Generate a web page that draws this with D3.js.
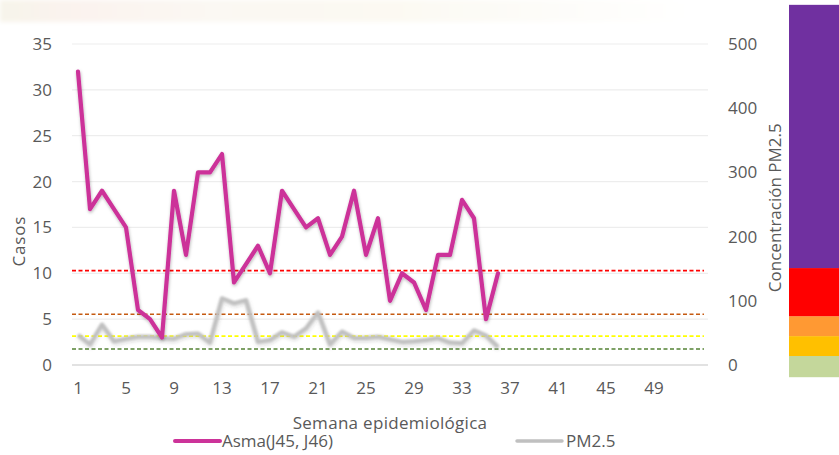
<!DOCTYPE html>
<html>
<head>
<meta charset="utf-8">
<script src="https://cdn.jsdelivr.net/npm/d3@7/dist/d3.min.js"></script>
<style>
  html, body { margin: 0; padding: 0; background: #ffffff; }
  svg { display: block; font-family: "Open Sans", "Noto Sans", sans-serif; }
</style>
</head>
<body>
<svg id="chart" width="839" height="455"></svg>
<script>
// Semanas epidemiológicas (eje de categorías, 53 posiciones)
const weeks = d3.range(1, 54);
const weekTicks = [1, 5, 9, 13, 17, 21, 25, 29, 33, 37, 41, 45, 49];

// Casos de asma (J45, J46) por semana
const asma = [32, 17, 19, 17, 15, 6, 5, 3, 19, 12, 21, 21, 23, 9, 11, 13, 10, 19,
              17, 15, 16, 12, 14, 19, 12, 16, 7, 10, 9, 6, 12, 12, 18, 16, 5, 10];

// Concentración semanal de PM2.5 (µg/m³)
const pm25 = [47, 32, 63, 37, 41, 44, 44, 42, 41, 48, 49, 35, 104, 96, 101, 36, 39, 51,
              44, 57, 82, 32, 52, 42, 42, 44, 40, 36, 37, 39, 42, 35, 34, 54, 46, 28];

// Ticks de ambos ejes
const casosTicks = [0, 5, 10, 15, 20, 25, 30, 35];
const pmTicks = [0, 100, 200, 300, 400, 500];

// Límites de calidad del aire para PM2.5 (líneas de referencia)
const limites = [25, 45, 79, 147];
const limiteColores = ["#548235", "#FFFF00", "#C55A11", "#FF0000"];

// Escala de colores del índice (bordes de cada franja en µg/m³)
const franjaBordes = [-19, 14, 45, 76, 151, 561];
const franjaColores = ["#C4D79B", "#FFC000", "#FF9933", "#FF0000", "#7030A0"];

const colAsma = "#CC3399";
const colPM = "#C0C0C0";
const textCol = "#595959";

const svg = d3.select("#chart");
const W = 839, H = 455;

// Fondo
const defs = svg.append("defs");
const grad = defs.append("linearGradient").attr("id", "topband").attr("x1", 0).attr("x2", 1);
grad.append("stop").attr("offset", "0%").attr("stop-color", "#f7f4ea");
grad.append("stop").attr("offset", "12%").attr("stop-color", "#fbf3ef");
grad.append("stop").attr("offset", "30%").attr("stop-color", "#fbf8f3");
grad.append("stop").attr("offset", "55%").attr("stop-color", "#fcf9f2");
grad.append("stop").attr("offset", "75%").attr("stop-color", "#fdfcf8");
grad.append("stop").attr("offset", "100%").attr("stop-color", "#ffffff");
const blurTop = defs.append("filter").attr("id", "soft").attr("x", "-5%").attr("y", "-50%").attr("width", "110%").attr("height", "200%");
blurTop.append("feGaussianBlur").attr("stdDeviation", 2);
svg.append("rect").attr("x", 0).attr("y", 0).attr("width", 700).attr("height", 22)
  .attr("fill", "url(#topband)").attr("filter", "url(#soft)");

// Sombras de las series
const shadow = defs.append("filter").attr("id", "shadow").attr("x", "-10%").attr("y", "-10%").attr("width", "120%").attr("height", "130%");
shadow.append("feDropShadow").attr("dx", 0.5).attr("dy", 1.5).attr("stdDeviation", 1.4)
  .attr("flood-color", "#000").attr("flood-opacity", 0.28);
const glow = defs.append("filter").attr("id", "glow").attr("x", "-10%").attr("y", "-20%").attr("width", "120%").attr("height", "150%");
glow.append("feGaussianBlur").attr("in", "SourceGraphic").attr("stdDeviation", 0.9).attr("result", "b");
glow.append("feDropShadow").attr("in", "b").attr("dx", 0.5).attr("dy", 1.5).attr("stdDeviation", 1.5)
  .attr("flood-color", "#000").attr("flood-opacity", 0.22);

// Escalas
const x = d3.scaleBand().domain(weeks).range([72, 708]).paddingInner(0).paddingOuter(0);
const xc = d => x(d) + x.bandwidth() / 2;
const yL = d3.scaleLinear().domain([0, 35]).range([365, 44]);
const yR = d3.scaleLinear().domain([0, 500]).range([365, 44]);

// Líneas de cuadrícula
svg.append("g").selectAll("line").data(casosTicks).join("line")
  .attr("x1", 72).attr("x2", 708)
  .attr("y1", d => yL(d)).attr("y2", d => yL(d))
  .attr("stroke", d => d === 0 ? "#D9D9D9" : "#EDEDED")
  .attr("stroke-width", d => d === 0 ? 1.5 : 1.2);

// Eje izquierdo
const axL = svg.append("g").attr("transform", "translate(60,0)")
  .call(d3.axisLeft(yL).tickValues(casosTicks).tickSize(0).tickPadding(8));
axL.select(".domain").remove();
axL.selectAll("text").attr("fill", textCol).style("font-size", "17px")
  .style("font-family", "'Open Sans', sans-serif");

// Eje derecho
const axR = svg.append("g").attr("transform", "translate(720,0)")
  .call(d3.axisRight(yR).tickValues(pmTicks).tickSize(0).tickPadding(8));
axR.select(".domain").remove();
axR.selectAll("text").attr("fill", textCol).style("font-size", "17px")
  .style("font-family", "'Open Sans', sans-serif");

// Eje de semanas
const axX = svg.append("g").attr("transform", "translate(0,365)")
  .call(d3.axisBottom(x).tickValues(weekTicks).tickSize(0).tickPadding(17));
axX.select(".domain").remove();
axX.selectAll("text").attr("fill", textCol).style("font-size", "17px")
  .style("font-family", "'Open Sans', sans-serif");

// Títulos de ejes
svg.append("text").attr("transform", `translate(25,${yL(13.5)}) rotate(-90)`)
  .attr("text-anchor", "middle").attr("fill", textCol)
  .style("font-size", "17px").style("letter-spacing", "0.8px").text("Casos");
svg.append("text").attr("transform", `translate(781,${yR(245)}) rotate(-90)`)
  .attr("text-anchor", "middle").attr("fill", textCol)
  .style("font-size", "17px").text("Concentración PM2.5");
svg.append("text").attr("x", 390).attr("y", 429)
  .attr("text-anchor", "middle").attr("fill", textCol)
  .style("font-size", "17px").style("letter-spacing", "0.3px").text("Semana epidemiológica");

// Líneas de referencia de calidad del aire
svg.append("g").selectAll("line").data(limites).join("line")
  .attr("x1", 72).attr("x2", 704)
  .attr("y1", d => yR(d)).attr("y2", d => yR(d))
  .attr("stroke", (d, i) => limiteColores[i])
  .attr("stroke-width", 1.6)
  .attr("stroke-dasharray", "4,2.5");

// Serie PM2.5 (eje derecho)
const linePM = d3.line().x((d, i) => xc(i + 1)).y(d => yR(d));
svg.append("path").datum(pm25).attr("d", linePM)
  .attr("fill", "none").attr("stroke", colPM).attr("stroke-width", 4)
  .attr("stroke-linejoin", "round").attr("filter", "url(#glow)");

// Serie Asma (eje izquierdo)
const lineAsma = d3.line().x((d, i) => xc(i + 1)).y(d => yL(d));
svg.append("path").datum(asma).attr("d", lineAsma)
  .attr("fill", "none").attr("stroke", colAsma).attr("stroke-width", 4.2)
  .attr("stroke-linejoin", "round").attr("stroke-linecap", "round")
  .attr("filter", "url(#shadow)");

// Barra de colores del índice
svg.append("g").selectAll("rect").data(franjaColores).join("rect")
  .attr("x", 789).attr("width", 50)
  .attr("y", (c, i) => yR(franjaBordes[i + 1]))
  .attr("height", (c, i) => yR(franjaBordes[i]) - yR(franjaBordes[i + 1]))
  .attr("fill", c => c);

// Leyenda
const legend = svg.append("g").attr("transform", "translate(0,441)");
legend.append("line").attr("x1", 175).attr("x2", 220).attr("y1", 0).attr("y2", 0)
  .attr("stroke", colAsma).attr("stroke-width", 4).attr("stroke-linecap", "round");
legend.append("text").attr("x", 222).attr("y", 6).attr("fill", textCol)
  .style("font-size", "17px").text("Asma(J45, J46)");
legend.append("line").attr("x1", 517).attr("x2", 562).attr("y1", 0).attr("y2", 0)
  .attr("stroke", colPM).attr("stroke-width", 3.5).attr("stroke-linecap", "round");
legend.append("text").attr("x", 566).attr("y", 6).attr("fill", textCol)
  .style("font-size", "17px").text("PM2.5");
</script>
</body>
</html>
